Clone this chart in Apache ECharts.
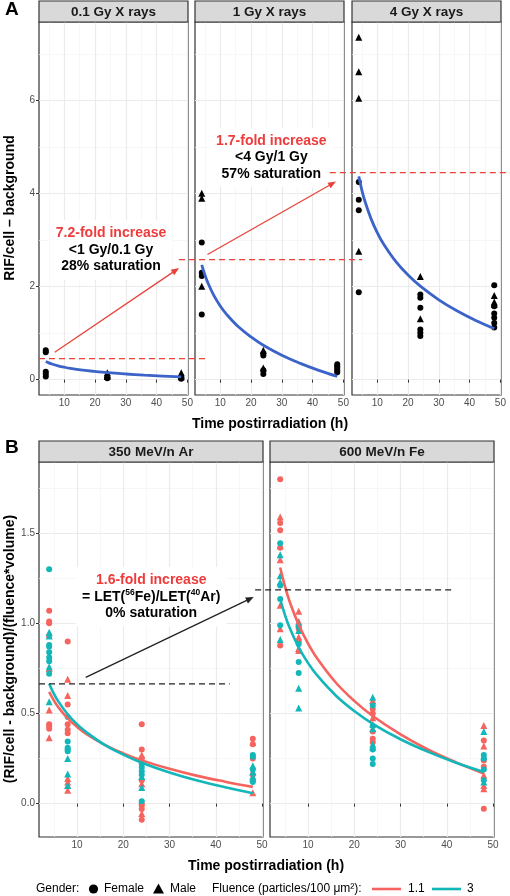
<!DOCTYPE html>
<html><head><meta charset="utf-8">
<script src="https://cdn.jsdelivr.net/npm/echarts@6/dist/echarts.min.js"></script>
<style>html,body{margin:0;padding:0;background:#fff}#c{width:510px;height:896px}</style>
</head><body><div id="c"></div>
<script>
// ---------------- DATA ----------------
const panelTitles = ['0.1 Gy X rays', '1 Gy X rays', '4 Gy X rays', '350 MeV/n Ar', '600 MeV/n Fe'];
const xTicks = [10, 20, 30, 40, 50];
const xMinor = [5, 15, 25, 35, 45];
const yTicksA = [0, 2, 4, 6];
const yMinorA = [1, 3, 5, 7];
const yTicksB = [0, 0.5, 1.0, 1.5];
const yMinorB = [0.25, 0.75, 1.25, 1.75];

// Panel A points [time h, RIF/cell - background]
const gy01Female = [[4,0.63],[4,0.59],[4,0.17],[4,0.12],[4,0.07],[24,0.05],[24,0.03],[48,0.05],[48,0.02]];
const gy01Male = [[24,0.15],[24,0.10],[24,0.07],[48,0.15],[48,0.10],[48,0.06]];
const gy1Female = [[4,2.95],[4,2.30],[4,2.23],[4,1.40],[24,0.56],[24,0.52],[24,0.20],[24,0.12],[48,0.33],[48,0.29],[48,0.25],[48,0.20],[48,0.16]];
const gy1Male = [[4,4.01],[4,3.90],[4,2.01],[24,0.63],[24,0.25]];
const gy4Female = [[4,4.25],[4,3.87],[4,3.64],[4,1.88],[24,1.83],[24,1.76],[24,1.545],[24,1.08],[24,1.01],[24,0.94],[48,2.03],[48,1.58],[48,1.42],[48,1.33],[48,1.22],[48,1.12]];
const gy4Male = [[4,7.36],[4,6.62],[4,6.05],[4,2.76],[24,2.22],[24,1.31],[48,1.81],[48,1.67],[48,1.62]];

// Panel B points [time h, value]; Low = fluence 1.1, High = fluence 3
const arLowFemale = [[4,1.07],[4,1.01],[4,1.0],[4,0.93],[4,0.44],[4,0.43],[4,0.415],[8,0.90],[8,0.55],[8,0.44],[8,0.41],[8,0.39],[24,0.44],[24,0.30],[24,0.25],[24,0.13],[24,0.0],[24,-0.01],[24,-0.03],[24,-0.09],[48,0.36],[48,0.33],[48,0.25],[48,0.16],[48,0.13]];
const arLowMale = [[4,0.75],[4,0.52],[4,0.365],[8,0.69],[8,0.60],[8,0.14],[8,0.12],[8,0.10],[8,0.075],[24,0.27],[24,0.11],[24,-0.055],[48,0.34],[48,0.175],[48,0.14],[48,0.06]];
const arHighFemale = [[4,1.30],[4,0.88],[4,0.87],[4,0.84],[4,0.81],[4,0.79],[4,0.72],[8,0.48],[8,0.345],[8,0.31],[8,0.30],[8,0.29],[24,0.22],[24,0.20],[24,0.18],[24,0.16],[24,0.013],[48,0.27],[48,0.26],[48,0.19],[48,0.12]];
const arHighMale = [[4,0.95],[4,0.93],[4,0.76],[4,0.565],[8,0.25],[8,0.165],[8,0.10],[24,0.15],[24,0.09],[48,0.21],[48,0.175],[48,0.15]];
const feLowFemale = [[4,1.80],[4,1.556],[4,1.517],[4,1.42],[4,0.877],[8,0.97],[8,0.90],[24,0.525],[24,0.50],[24,0.40],[24,0.36],[24,0.34],[48,0.35],[48,0.24],[48,0.205],[48,-0.028]];
const feLowMale = [[4,1.59],[4,1.43],[4,1.353],[4,1.10],[4,0.97],[8,1.067],[8,1.01],[8,0.925],[8,0.86],[8,0.85],[24,0.572],[24,0.476],[24,0.44],[48,0.434],[48,0.32],[48,0.157],[48,0.10],[48,0.083]];
const feHighFemale = [[4,1.445],[4,1.21],[4,1.135],[4,0.99],[8,0.98],[8,0.886],[8,0.786],[8,0.725],[24,0.545],[24,0.43],[24,0.30],[24,0.25],[24,0.22],[48,0.27],[48,0.25],[48,0.19],[48,0.13]];
const feHighMale = [[4,1.38],[4,1.264],[4,1.23],[4,0.91],[8,1.0],[8,0.96],[8,0.64],[8,0.53],[24,0.59],[24,0.415],[24,0.33],[24,0.315],[48,0.40],[48,0.26],[48,0.12]];

// Fitted curves
const tFit = [4, 5, 6, 8, 10, 12, 16, 20, 24, 30, 36, 42, 48];
const fit01Gy = [0.39, 0.36, 0.336, 0.298, 0.268, 0.243, 0.205, 0.176, 0.151, 0.122, 0.097, 0.077, 0.059];
const fit1Gy = [2.47, 2.256, 2.08, 1.80, 1.585, 1.41, 1.13, 0.92, 0.74, 0.525, 0.35, 0.20, 0.07];
const fit4Gy = [4.37, 4.076, 3.835, 3.457, 3.162, 2.922, 2.543, 2.249, 2.01, 1.716, 1.475, 1.272, 1.097];
const fitArLow = [0.62, 0.573, 0.534, 0.473, 0.426, 0.387, 0.326, 0.279, 0.24, 0.193, 0.154, 0.122, 0.093];
const fitArHigh = [0.665, 0.61, 0.566, 0.496, 0.441, 0.397, 0.326, 0.272, 0.227, 0.173, 0.128, 0.091, 0.058];
const fitFeLow = [1.31, 1.208, 1.124, 0.992, 0.889, 0.805, 0.672, 0.57, 0.486, 0.384, 0.299, 0.229, 0.167];
const fitFeHigh = [1.135, 1.049, 0.978, 0.867, 0.781, 0.711, 0.60, 0.514, 0.443, 0.357, 0.287, 0.227, 0.176];

// Annotations: [panel, x, y]
const annA = {
  dash: [
    [[0, 1.8, 0.45], [1, 5.75, 0.45]],
    [[0, 47.3, 2.58], [2, 5.1, 2.58]],
    [[1, 45.6, 4.45], [2, 53.3, 4.45]]
  ],
  arrows: [
    [[0, 6.9, 0.59], [0, 47.3, 2.40]],
    [[1, 5.85, 2.69], [1, 47.6, 4.26]]
  ],
  texts: [
    [0, 25.2, 2.79, '7.2-fold increase', '<1 Gy/0.1 Gy', '28% saturation'],
    [1, 26.6, 4.78, '1.7-fold increase', '<4 Gy/1 Gy', '57% saturation']
  ]
};
const annB = {
  dash: [
    [[3, 1.8, 0.664], [3, 43.0, 0.664]],
    [[3, 48.5, 1.186], [4, 41.5, 1.186]]
  ],
  arrows: [[[3, 11.9, 0.70], [3, 48.2, 1.146]]],
  texts: [[3, 26.05, 1.148, '1.6-fold increase', '= LET({s|56}Fe)/LET({s|40}Ar)', '0% saturation']]
};

// ---------------- CHART ----------------
const FONT = '"Liberation Sans", Arial, Helvetica, sans-serif';
const RED = '#F5645E', TEAL = '#13B6B9', BLUE = '#3B63C8', ARED = '#E8433A';
const chart = echarts.init(document.getElementById('c'), null, {renderer: 'canvas'});

const gridPos = [
  {left: 39, top: 22, width: 149, height: 373},
  {left: 195, top: 22, width: 149, height: 373},
  {left: 352, top: 22, width: 149, height: 373},
  {left: 39, top: 462, width: 224, height: 375},
  {left: 270, top: 462, width: 224, height: 375}
];
const yRange = [[-0.33, 7.69], [-0.33, 7.69], [-0.33, 7.69], [-0.185, 1.895], [-0.185, 1.895]];

const grid = gridPos.map(g => Object.assign({show: true, borderColor: '#333', borderWidth: 1.2, backgroundColor: '#fff', containLabel: false, outerBoundsMode: 'none'}, g));

const xAxis = [], yAxis = [];
for (let i = 0; i < 5; i++) {
  xAxis.push({type: 'value', gridIndex: i, min: 1.8, max: 50.2,
    axisLine: {show: false},
    axisTick: {show: true, length: 3, lineStyle: {color: '#333', width: 1}, customValues: xTicks},
    axisLabel: {show: true, customValues: xTicks, color: '#4d4d4d', fontSize: 10, margin: 3, fontFamily: FONT, showMaxLabel: true, showMinLabel: true},
    splitLine: {show: true, lineStyle: {color: '#ebebeb', width: 1.2}}
  });
}
for (let i = 0; i < 5; i++) {
  const isA = i < 3, first = (i === 0 || i === 3);
  yAxis.push({type: 'value', gridIndex: i, min: yRange[i][0], max: yRange[i][1],
    axisLine: {show: false},
    axisTick: {show: first, length: 3, lineStyle: {color: '#333', width: 1}, customValues: isA ? yTicksA : yTicksB},
    axisLabel: {show: first, customValues: isA ? yTicksA : yTicksB, color: '#4d4d4d', fontSize: 10, margin: 4, fontFamily: FONT,
      formatter: v => isA ? String(v) : v.toFixed(1)},
    splitLine: {show: true, lineStyle: {color: '#ebebeb', width: 1.2}}
  });
}
// minor grid axes
for (let i = 0; i < 5; i++) {
  xAxis.push({type: 'value', gridIndex: i, min: 1.8, max: 50.2, axisLine: {show: false},
    axisTick: {show: false, customValues: xMinor}, axisLabel: {show: false, customValues: xMinor},
    splitLine: {show: true, lineStyle: {color: '#f3f3f3', width: 0.7}}});
  const isA = i < 3;
  yAxis.push({type: 'value', gridIndex: i, min: yRange[i][0], max: yRange[i][1], axisLine: {show: false},
    axisTick: {show: false, customValues: isA ? yMinorA : yMinorB}, axisLabel: {show: false, customValues: isA ? yMinorA : yMinorB},
    splitLine: {show: true, lineStyle: {color: '#f3f3f3', width: 0.7}}});
}

const series = [];
function pts(p, data, symbol, color, size) {
  series.push({type: 'scatter', xAxisIndex: p, yAxisIndex: p, data: data, symbol: symbol,
    symbolSize: size, itemStyle: {color: color, opacity: 1}, z: 3, silent: true});
}
function curve(p, vals, color, w) {
  series.push({type: 'line', xAxisIndex: p, yAxisIndex: p, data: tFit.map((t, k) => [t, vals[k]]),
    smooth: 0.4, showSymbol: false, symbol: 'none', lineStyle: {color: color, width: w}, z: 4, silent: true, clip: true});
}
pts(0, gy01Female, 'circle', '#000', 6); pts(0, gy01Male, 'triangle', '#000', 7);
pts(1, gy1Female, 'circle', '#000', 6); pts(1, gy1Male, 'triangle', '#000', 7);
pts(2, gy4Female, 'circle', '#000', 6); pts(2, gy4Male, 'triangle', '#000', 7);
curve(0, fit01Gy, BLUE, 2.8); curve(1, fit1Gy, BLUE, 2.8); curve(2, fit4Gy, BLUE, 2.8);
pts(3, arLowFemale, 'circle', RED, 6); pts(3, arLowMale, 'triangle', RED, 7);
pts(3, arHighFemale, 'circle', TEAL, 6); pts(3, arHighMale, 'triangle', TEAL, 7);
pts(4, feLowFemale, 'circle', RED, 6); pts(4, feLowMale, 'triangle', RED, 7);
pts(4, feHighFemale, 'circle', TEAL, 6); pts(4, feHighMale, 'triangle', TEAL, 7);
curve(3, fitArLow, RED, 2.6); curve(3, fitArHigh, TEAL, 2.6);
curve(4, fitFeLow, RED, 2.6); curve(4, fitFeHigh, TEAL, 2.6);

chart.setOption({animation: false, backgroundColor: '#fff', grid, xAxis, yAxis, series});

// ---------------- GRAPHICS ----------------
const px = (p, x, y) => chart.convertToPixel({xAxisIndex: p, yAxisIndex: p}, [x, y]);
const g = [];
// strips
gridPos.forEach((gp, i) => {
  const top = gp.top - 21;
  g.push({type: 'rect', shape: {x: gp.left, y: top, width: gp.width, height: 21}, style: {fill: '#d9d9d9', stroke: '#333', lineWidth: 1.2}, z: 10});
  g.push({type: 'text', x: gp.left + gp.width / 2, y: top + 11, style: {text: panelTitles[i], fill: '#1a1a1a', font: 'bold 13.5px ' + FONT, align: 'center', verticalAlign: 'middle'}, z: 11});
});
// letters
g.push({type: 'text', x: 5, y: 10, style: {text: 'A', fill: '#000', font: 'bold 19px ' + FONT, verticalAlign: 'middle'}, z: 11});
g.push({type: 'text', x: 5, y: 448, style: {text: 'B', fill: '#000', font: 'bold 19px ' + FONT, verticalAlign: 'middle'}, z: 11});
// axis titles
g.push({type: 'text', x: 270, y: 424, style: {text: 'Time postirradiation (h)', fill: '#000', font: 'bold 14px ' + FONT, align: 'center', verticalAlign: 'middle'}, z: 11});
g.push({type: 'text', x: 266, y: 866, style: {text: 'Time postirradiation (h)', fill: '#000', font: 'bold 14px ' + FONT, align: 'center', verticalAlign: 'middle'}, z: 11});
g.push({type: 'text', x: 10, y: 208, rotation: Math.PI / 2, style: {text: 'RIF/cell \u2013 background', fill: '#000', font: 'bold 14px ' + FONT, align: 'center', verticalAlign: 'middle'}, z: 11});
g.push({type: 'text', x: 10, y: 649, rotation: Math.PI / 2, style: {text: '(RIF/cell - background)/(fluence*volume)', fill: '#000', font: 'bold 14px ' + FONT, align: 'center', verticalAlign: 'middle'}, z: 11});

function addAnn(ann, color) {
  ann.texts.forEach(t => {
    const p = px(t[0], t[1], t[2]);
    g.push({type: 'text', x: p[0], y: p[1], z: 20, style: {
      text: '{r|' + t[3] + '}\n' + t[4] + '\n' + t[5],
      fill: '#000', font: 'bold 14px ' + FONT, lineHeight: 16.5,
      align: 'center', verticalAlign: 'middle', backgroundColor: '#fff', padding: [5, 6],
      rich: {r: {fill: '#EE3B3B', font: 'bold 14px ' + FONT, lineHeight: 16.5},
             s: {fill: '#000', font: 'bold 8.5px ' + FONT, lineHeight: 10, verticalAlign: 'top'}}
    }});
  });
  ann.dash.forEach(d => {
    const a = px(d[0][0], d[0][1], d[0][2]), b = px(d[1][0], d[1][1], d[1][2]);
    g.push({type: 'line', z: 25, shape: {x1: a[0], y1: a[1], x2: b[0], y2: b[1]}, style: {stroke: color, lineWidth: 1.3, lineDash: [6, 4]}});
  });
  ann.arrows.forEach(d => {
    const a = px(d[0][0], d[0][1], d[0][2]), b = px(d[1][0], d[1][1], d[1][2]);
    const dx = b[0] - a[0], dy = b[1] - a[1], L = Math.hypot(dx, dy), ux = dx / L, uy = dy / L;
    const bx = b[0] - ux * 8, by = b[1] - uy * 8;
    g.push({type: 'line', z: 25, shape: {x1: a[0], y1: a[1], x2: bx + ux * 2, y2: by + uy * 2}, style: {stroke: color, lineWidth: 1.3}});
    g.push({type: 'polygon', z: 25, shape: {points: [[b[0], b[1]], [bx - uy * 3.2, by + ux * 3.2], [bx + uy * 3.2, by - ux * 3.2]]}, style: {fill: color}});
  });
}
addAnn(annA, ARED);
addAnn(annB, '#222');

// legend
const ly = 889, LF = '12px ' + FONT;
g.push({type: 'text', x: 36, y: ly, style: {text: 'Gender:', fill: '#000', font: LF, verticalAlign: 'middle'}, z: 11});
g.push({type: 'circle', shape: {cx: 93.5, cy: ly, r: 4.6}, style: {fill: '#000'}, z: 11});
g.push({type: 'text', x: 104, y: ly, style: {text: 'Female', fill: '#000', font: LF, verticalAlign: 'middle'}, z: 11});
g.push({type: 'polygon', shape: {points: [[158.5, ly - 5.5], [164, ly + 4.5], [153, ly + 4.5]]}, style: {fill: '#000'}, z: 11});
g.push({type: 'text', x: 170, y: ly, style: {text: 'Male', fill: '#000', font: LF, verticalAlign: 'middle'}, z: 11});
g.push({type: 'text', x: 212, y: ly, style: {text: 'Fluence (particles/100 \u03bcm\u00b2):', fill: '#000', font: LF, verticalAlign: 'middle'}, z: 11});
g.push({type: 'line', shape: {x1: 372, y1: ly, x2: 401, y2: ly}, style: {stroke: RED, lineWidth: 2.6}, z: 11});
g.push({type: 'text', x: 408, y: ly, style: {text: '1.1', fill: '#000', font: LF, verticalAlign: 'middle'}, z: 11});
g.push({type: 'line', shape: {x1: 432, y1: ly, x2: 461, y2: ly}, style: {stroke: TEAL, lineWidth: 2.6}, z: 11});
g.push({type: 'text', x: 467, y: ly, style: {text: '3', fill: '#000', font: LF, verticalAlign: 'middle'}, z: 11});

chart.setOption({graphic: g});
</script></body></html>
